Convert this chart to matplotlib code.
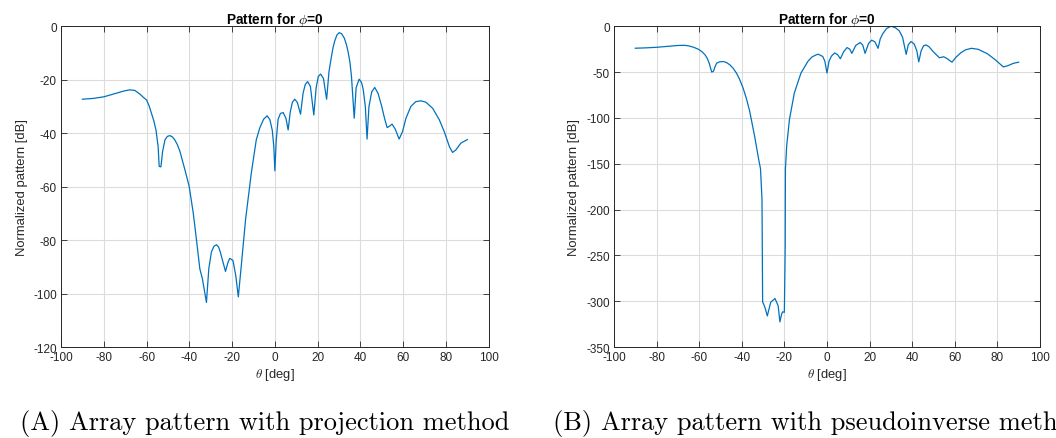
import matplotlib
matplotlib.use("Agg")
from matplotlib import pyplot as plt

plt.rcParams['font.family'] = ['Liberation Sans', 'DejaVu Sans']
plt.rcParams['mathtext.fontset'] = 'cm'
plt.rcParams['axes.unicode_minus'] = False

# projection method pattern (theta in deg, pattern in dB)
theta_a = [-90, -85, -80, -76.5, -73.9, -70.5, -67.9, -65.5, -63.1, -61.5, -60, -58.8, -57.7, -56.6,
           -55.6, -54.6, -54.1, -53.3, -52.5, -51.4, -50.3, -49.1, -47.9, -46.8, -45.6, -44.4,
           -42.1, -40.1, -38.2, -36.7, -35.1, -33.9, -32.0, -30.9, -29.7, -28.5, -27.3, -26.3,
           -25.5, -23.1, -22.0, -21.1, -19.6, -18.3, -17.1, -15.7, -13.7, -11.0, -8.7, -7.1, -5.3,
           -3.6, -2.3, -1.2, -0.5, 0, 0.6, 1.5, 2.6, 3.9, 5.2, 6.2, 7.2, 8.2, 9.3, 10.5, 12, 13.2,
           14.2, 15.3, 16.6, 18.2, 19.3, 20.3, 21.4, 22.7, 24.2, 25.3, 26.5, 27.2, 28, 29, 30.1,
           31.2, 32.5, 33.5, 34.3, 35.1, 35.8, 37.1, 38, 39.4, 40.5, 41.3, 42.3, 43.1, 44, 45.3,
           46.7, 48.3, 49.9, 51.3, 52.5, 53.6, 54.8, 56.3, 58.1, 59.7, 61.3, 63.6, 65.9, 68.3,
           70.6, 73.8, 76.9, 79.2, 81.6, 83.1, 84.7, 87.0, 90]
pattern_a = [-27.3, -27.0, -26.4, -25.6, -25.0, -24.2, -23.8, -24.0, -25.4, -26.6, -27.6, -29.8,
             -32.6, -35.4, -38.8, -45, -52.4, -52.6, -46.8, -42.5, -41.2, -40.9, -41.4, -42.5,
             -44.3, -46.8, -53.6, -59.8, -69.7, -79.6, -90.7, -94.4, -103.3, -90.7, -84.5, -82.3,
             -81.7, -82.6, -84.5, -91.7, -88.5, -86.8, -87.6, -93.2, -101.2, -89.5, -72.2, -54.8,
             -42.5, -38.1, -34.8, -33.5, -35, -39, -45, -54.1, -43, -34.8, -32.6, -32.3, -34.5,
             -38.8, -32, -28.4, -27.3, -28.5, -32.9, -25, -21.8, -20.7, -22.5, -33.2, -23, -18.8,
             -17.9, -19.5, -27.3, -17, -11.1, -8, -5.5, -3.3, -2.4, -2.8, -4.5, -7, -9.8, -13.5,
             -18.6, -34.4, -23, -19.8, -21, -23.6, -30, -42.2, -30, -24.5, -22.9, -25.2, -29.8,
             -34.5, -37.9, -37.4, -36.6, -38.5, -42.2, -39.4, -34.4, -30.0, -28.2, -27.9, -28.4,
             -30.7, -35.0, -39.4, -45.0, -47.2, -46.2, -43.7, -42.4]

# pseudoinverse method pattern
theta_b = [-90, -85, -80, -75, -70, -67, -65, -62.5, -60.3, -58.7, -57.2, -56.2, -55.3, -54.1, -53.3,
           -52.6, -51.8, -50.3, -48.7, -47.2, -45.6, -44, -42.5, -41, -39.4, -37.8, -36.3, -34,
           -32.1, -31.2, -30.5, -30.2, -29.9, -29.1, -28, -26.4, -24.4, -22.9, -22.1, -21.3, -20.8,
           -20, -19.6, -19.5, -18.9, -17.6, -15.3, -12.2, -9.0, -7, -5.1, -4.1, -2, -1, 0, 1, 2.1,
           3.6, 5, 6.3, 7.8, 9.4, 10.7, 11.7, 13.5, 15.6, 16.8, 17.9, 19.5, 21, 22.5, 24, 25, 26.1,
           28, 30, 32, 33.9, 35.5, 37.2, 38.2, 39.5, 41, 42.2, 43.1, 44.2, 45.3, 46.5, 48, 49.6,
           51.3, 52.8, 54.8, 56.5, 58.7, 60.5, 62.9, 65, 67.8, 71, 75.3, 79, 82.8, 85, 87.5, 90]
pattern_b = [-24, -23.6, -23, -22, -21, -20.8, -21.4, -23, -25.2, -27.8, -31.3, -35, -40.3, -50,
             -49.3, -44.5, -40.3, -38.8, -38.5, -39.6, -42.1, -46, -51.1, -58, -67.3, -79, -92.5,
             -119.5, -144.7, -155.5, -188.7, -301, -302, -306.8, -316, -301, -297, -305, -322.5,
             -314, -311.5, -312, -240, -155.5, -130.3, -101.5, -72.7, -51.1, -38.5, -33.5, -31.3,
             -30.5, -33, -38, -51, -38, -32.6, -29.2, -31, -35.5, -28, -23.3, -25, -29.6, -21,
             -17.8, -20.5, -29.6, -19, -15.2, -17, -24.1, -14, -8.5, -2.5, 0, -1.5, -4.8, -12,
             -30.7, -20, -16.7, -19.5, -27, -38.9, -27, -21.5, -20.4, -22.5, -27, -31, -34.4,
             -33.3, -35.5, -39.2, -34, -28.9, -25.8, -24.1, -25.2, -30, -36.5, -44.4, -43, -40.5,
             -39.2]

x_ticks = [-100, -80, -60, -40, -20, 0, 20, 40, 60, 80, 100]
y_ticks_a = [0, -20, -40, -60, -80, -100, -120]
y_ticks_b = [0, -50, -100, -150, -200, -250, -300, -350]

line_color = "#0072BD"
dark = "#262626"


def style_axes(ax, yticks):
    ax.set_xlim([-100, 100])
    ax.set_ylim([min(yticks), max(yticks)])
    ax.set_xticks(x_ticks)
    ax.set_yticks(yticks)
    ax.grid(True, color="#dcdcdc", linewidth=0.8)
    ax.set_axisbelow(True)
    ax.tick_params(direction="in", top=True, right=True, length=4, width=0.6,
                   colors=dark, labelsize=8.5, pad=3)
    for s in ax.spines.values():
        s.set_color(dark)
        s.set_linewidth(0.7)
    ax.set_title(r"Pattern for $\phi$=0", fontsize=9.8, fontweight="bold", color="black", pad=2)
    ax.set_xlabel(r"$\theta$ [deg]", fontsize=9.4, color=dark, labelpad=2)
    ax.set_ylabel("Normalized pattern [dB]", fontsize=9.4, color=dark, labelpad=4)


fig = plt.figure(figsize=(10.56, 4.39), dpi=100)
ax1 = fig.add_axes([0.0578, 0.207, 0.405, 0.731])
ax2 = fig.add_axes([0.5814, 0.207, 0.4034, 0.731])

ax1.plot(theta_a, pattern_a, color=line_color, linewidth=0.9)
style_axes(ax1, y_ticks_a)
ax2.plot(theta_b, pattern_b, color=line_color, linewidth=0.9)
style_axes(ax2, y_ticks_b)

fig.text(0.019, 0.0205, "(A) Array pattern with projection method", family="cmr10",
         fontsize=19, ha="left", va="baseline")
fig.text(0.524, 0.0205, "(B) Array pattern with pseudoinverse method", family="cmr10",
         fontsize=19, ha="left", va="baseline")

plt.savefig("out.png", dpi=100)
